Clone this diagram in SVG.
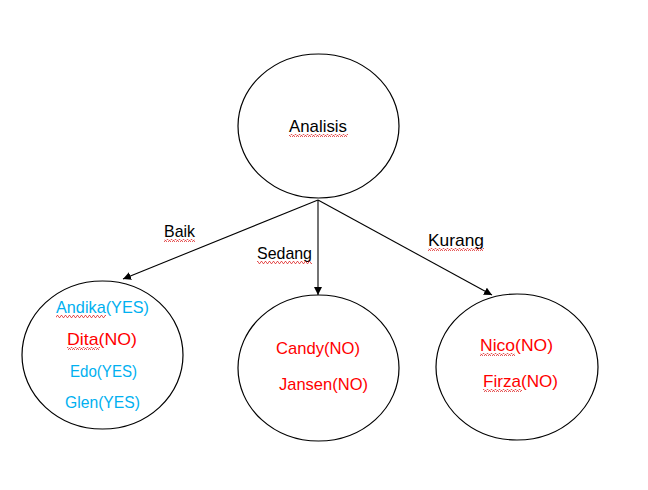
<svg xmlns="http://www.w3.org/2000/svg" width="648" height="490" viewBox="0 0 648 490">
<style>
.node{fill:#fff;stroke:#000;stroke-width:1.2}
.edge{stroke:#000;stroke-width:1.1;fill:none}
text{font-family:"Liberation Sans",Arial,sans-serif;font-size:17px}
.lbl{fill:#000}
.yes{fill:#00B0F0}
.no{fill:#FF0000}
.sq{fill:url(#squig)}
</style>
<defs>
<marker id="arr" viewBox="0 0 10 10" refX="10" refY="5" markerWidth="8" markerHeight="8" markerUnits="userSpaceOnUse" orient="auto">
<path d="M0,0 L10,5 L0,10 z" fill="#000"/>
</marker>
<pattern id="squig" width="4" height="3" patternUnits="userSpaceOnUse">
<path d="M0,2.5 L1,0.5 L2,0.5 L3,2.5 L4,2.5" stroke="#e03030" stroke-width="0.8" fill="none"/>
</pattern>
</defs>
<rect width="648" height="490" fill="#fff"/>
<g id="connectors">
<line class="edge" x1="318" y1="200" x2="123" y2="279" marker-end="url(#arr)"/>
<line class="edge" x1="318" y1="200" x2="318" y2="295" marker-end="url(#arr)"/>
<line class="edge" x1="318" y1="200" x2="492" y2="295" marker-end="url(#arr)"/>
<text class="lbl" x="164" y="237" textLength="31" lengthAdjust="spacingAndGlyphs">Baik</text>
<rect class="sq" x="164" y="239" width="31" height="3"/>
<text class="lbl" x="257" y="259" textLength="55" lengthAdjust="spacingAndGlyphs">Sedang</text>
<rect class="sq" x="257" y="261" width="55" height="3"/>
<text class="lbl" x="428" y="246" textLength="56" lengthAdjust="spacingAndGlyphs">Kurang</text>
<rect class="sq" x="428" y="248" width="56" height="3"/>
</g>
<g id="analisis">
<ellipse class="node" cx="318.5" cy="126" rx="80.5" ry="72"/>
<text class="lbl" x="289" y="132" textLength="58" lengthAdjust="spacingAndGlyphs">Analisis</text>
<rect class="sq" x="289" y="134" width="59" height="3"/>
</g>
<g id="baik-node">
<ellipse class="node" cx="102.5" cy="355" rx="80.5" ry="74"/>
<text class="yes" x="56" y="313" textLength="93" lengthAdjust="spacingAndGlyphs">Andika(YES)</text>
<rect class="sq" x="56" y="315" width="50" height="3"/>
<text class="no" x="67" y="345" textLength="70" lengthAdjust="spacingAndGlyphs">Dita(NO)</text>
<rect class="sq" x="67" y="347" width="33" height="3"/>
<text class="yes" x="70" y="377" textLength="67" lengthAdjust="spacingAndGlyphs">Edo(YES)</text>
<text class="yes" x="65" y="408" textLength="75" lengthAdjust="spacingAndGlyphs">Glen(YES)</text>
</g>
<g id="sedang-node">
<ellipse class="node" cx="318.5" cy="368" rx="80.5" ry="73"/>
<text class="no" x="276" y="354" textLength="84" lengthAdjust="spacingAndGlyphs">Candy(NO)</text>
<text class="no" x="279" y="390" textLength="89" lengthAdjust="spacingAndGlyphs">Jansen(NO)</text>
</g>
<g id="kurang-node">
<ellipse class="node" cx="517" cy="367" rx="81" ry="73"/>
<text class="no" x="480" y="351" textLength="73" lengthAdjust="spacingAndGlyphs">Nico(NO)</text>
<rect class="sq" x="480" y="353" width="35" height="3"/>
<text class="no" x="483" y="387" textLength="75" lengthAdjust="spacingAndGlyphs">Firza(NO)</text>
<rect class="sq" x="483" y="389" width="39" height="3"/>
</g>
</svg>
